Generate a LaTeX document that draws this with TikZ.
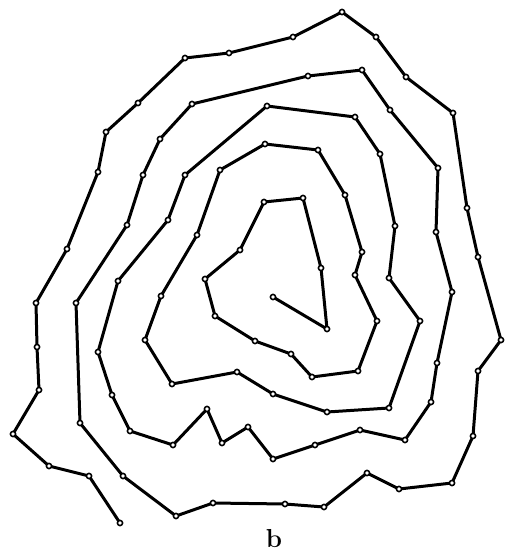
\documentclass[tikz,border=0pt]{standalone}
\usetikzlibrary{positioning}

\begin{document}
\begin{tikzpicture}[x=1pt, y=-1pt, line join=round,
    trail/.style={line width=3pt, line cap=round},
    knot/.style={mark=*, mark size=2.6pt, mark options={fill=white, line width=1.6pt}}]
  \useasboundingbox (0,0) rectangle (516,556);
  % the spiral, from the centre outwards
  \draw[trail] plot[knot] coordinates {
    (273,297) (327,329) (321,268) (303,198) (264,202) (240,250) (205,279)
    (215,316) (255,341) (291,354) (312,377) (358,371) (377,321) (355,275)
    (362,252) (345,195) (318,150) (265,144) (220,170) (197,235) (161,296)
    (145,340) (172,384) (237,372) (273,394) (327,412) (389,408) (420,321)
    (389,278) (395,226) (380,154) (355,117) (267,106) (185,175) (168,220)
    (118,281) (98,352) (112,395) (130,431) (173,445) (207,409) (222,443)
    (248,427) (273,459) (315,445) (360,430) (405,440) (431,402) (437,363)
    (452,292) (436,232) (438,168) (390,110) (362,70) (308,76) (192,104)
    (160,139) (143,175) (127,225) (76,303) (80,423) (123,476) (176,516)
    (213,503) (285,504) (324,507) (367,473) (399,489) (452,483) (473,436)
    (478,371) (501,340) (478,257) (467,208) (453,113) (406,77) (376,37)
    (342,12) (293,37) (229,53) (185,58) (138,103) (106,132) (98,172)
    (67,249) (36,303) (37,347) (39,390) (13,434) (49,466) (89,476) (120,523)};
  \node[font=\bfseries\fontsize{26}{26}\selectfont] (caption) at (274,539) {b};
\end{tikzpicture}
\end{document}
